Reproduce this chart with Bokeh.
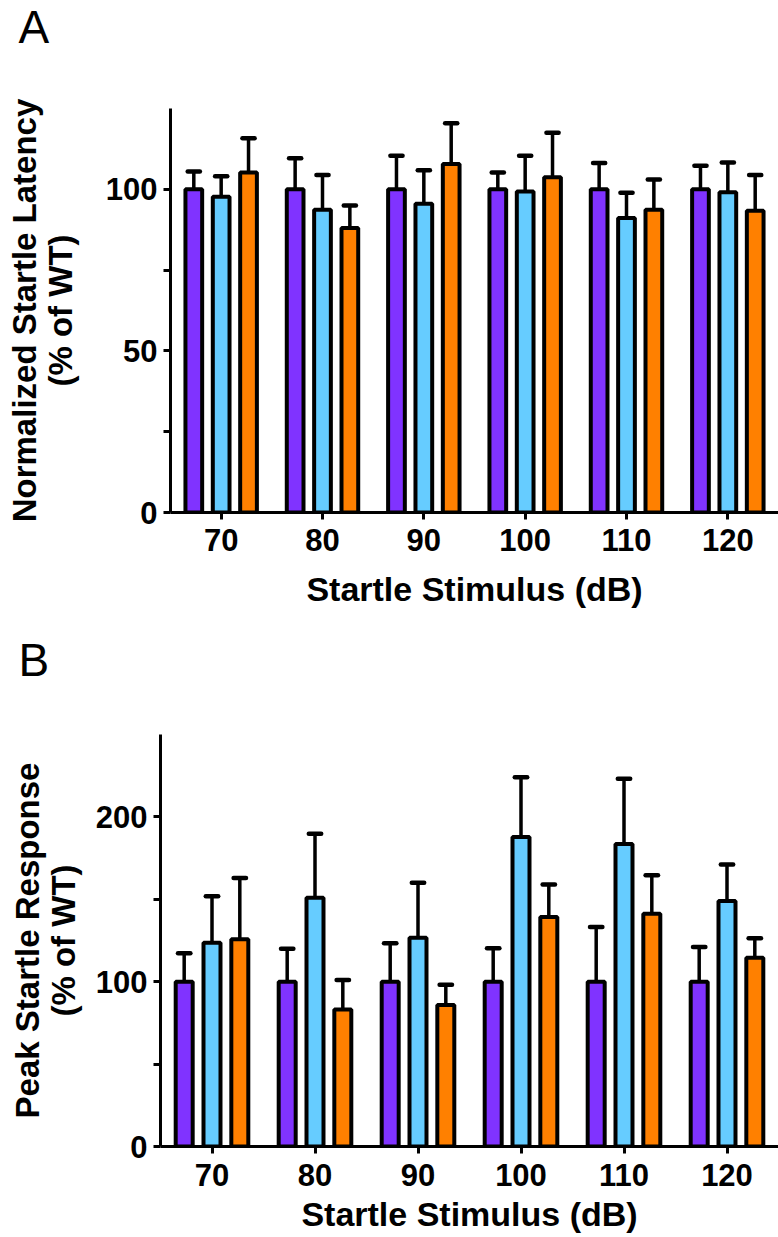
from bokeh.plotting import figure
from bokeh.models import ColumnDataSource, FactorRange, Range1d, FixedTicker
from bokeh.transform import dodge
from bokeh.layouts import column, row
from bokeh.embed import file_html
from bokeh.resources import INLINE

# ---------------- data ----------------
stimuli = ["70", "80", "90", "100", "110", "120"]

# Panel A: Normalized startle latency (% of WT)
lat_purple = [100, 100, 100, 100, 100, 100]
lat_purple_err = [5.5, 9.6, 10.4, 5.2, 8.1, 7.3]
lat_blue = [97.7, 93.7, 95.5, 99.3, 91.1, 99.1]
lat_blue_err = [6.3, 10.7, 10.4, 11.1, 7.8, 9.2]
lat_orange = [105.2, 88.0, 107.8, 103.7, 93.7, 93.4]
lat_orange_err = [10.6, 7.0, 12.6, 13.8, 9.3, 11.0]

# Panel B: Peak startle response (% of WT)
peak_purple = [100, 100, 100, 100, 100, 100]
peak_purple_err = [17.3, 20.0, 23.3, 20.3, 33.2, 21.1]
peak_blue = [123.7, 150.9, 126.7, 187.8, 183.6, 148.9]
peak_blue_err = [28.2, 38.9, 33.3, 36.2, 39.5, 22.2]
peak_orange = [125.8, 83.2, 85.8, 139.2, 141.2, 114.6]
peak_orange_err = [37.2, 17.8, 12.3, 19.8, 23.4, 11.8]

colors = ["#8033FF", "#66CCFF", "#FF8000"]
offsets = [-0.27, 0.0, 0.27]

FONT = "Liberation Sans"


def make_panel(letter, ylabel, series, ymax, major, minor, height,
               border_left, border_top, border_bottom,
               label_standoff, tick_standoff, xlabel_standoff,
               letter_offset, letter_line_height):
    p = figure(x_range=FactorRange(*stimuli, range_padding=0),
               y_range=Range1d(0, ymax), width=778, height=height,
               output_backend="svg", toolbar_location=None,
               min_border_left=border_left, min_border_right=0,
               min_border_top=border_top, min_border_bottom=border_bottom)
    p.outline_line_color = None
    p.grid.visible = False
    p.background_fill_color = "white"

    # panel letter (second, empty line lifts it to the top of the canvas)
    p.title.text = letter + "\n"
    p.title.text_font = FONT
    p.title.text_font_size = "46px"
    p.title.text_font_style = "normal"
    p.title.text_color = "black"
    p.title.align = "left"
    p.title.offset = letter_offset
    p.title.vertical_align = "top"
    p.title.standoff = 0
    p.title.text_line_height = letter_line_height

    for (vals, errs), col, off in zip(series, colors, offsets):
        tops = [v + e for v, e in zip(vals, errs)]
        src = ColumnDataSource(dict(x=stimuli, val=vals, top=tops))
        p.segment(x0=dodge("x", off, range=p.x_range), y0="val",
                  x1=dodge("x", off, range=p.x_range), y1="top",
                  source=src, line_color="black", line_width=3.5)
        p.segment(x0=dodge("x", off - 0.06, range=p.x_range), y0="top",
                  x1=dodge("x", off + 0.06, range=p.x_range), y1="top",
                  source=src, line_color="black", line_width=4.5,
                  line_cap="round")
        p.vbar(x=dodge("x", off, range=p.x_range), top="val", width=0.165,
               bottom=0, source=src, fill_color=col, line_color="black",
               line_width=4)

    for ax in (p.xaxis[0], p.yaxis[0]):
        ax.axis_line_width = 3
        ax.axis_line_color = "black"
        ax.major_tick_line_width = 3
        ax.major_tick_out = 7
        ax.major_tick_in = 0
        ax.major_label_text_font = FONT
        ax.major_label_text_font_style = "bold"
        ax.major_label_text_font_size = "31px"
        ax.major_label_text_color = "black"
        ax.axis_label_text_font = FONT
        ax.axis_label_text_font_style = "bold"
        ax.axis_label_text_color = "black"

    p.xaxis.axis_label = "Startle Stimulus (dB)"
    p.xaxis.axis_label_text_font_size = "34px"
    p.xaxis.major_label_standoff = tick_standoff
    p.xaxis.axis_label_standoff = xlabel_standoff

    p.yaxis.axis_label = ylabel
    p.yaxis.axis_label_text_font_size = "33px"
    p.yaxis.axis_label_text_line_height = 0.97
    p.yaxis.ticker = FixedTicker(ticks=major, minor_ticks=minor)
    p.yaxis.minor_tick_line_width = 3
    p.yaxis.minor_tick_out = 7
    p.yaxis.minor_tick_in = 0
    p.yaxis.major_label_standoff = 6
    p.yaxis.axis_label_standoff = label_standoff
    return p


pA = make_panel("A", "Normalized Startle Latency\n(% of WT)",
                [(lat_purple, lat_purple_err), (lat_blue, lat_blue_err),
                 (lat_orange, lat_orange_err)],
                125, [0, 50, 100], [25, 75], 625,
                170, 107, 113, 24, 9, 16, -152, 1.03)

pB = make_panel("B", "Peak Startle Response\n(% of WT)",
                [(peak_purple, peak_purple_err), (peak_blue, peak_blue_err),
                 (peak_orange, peak_orange_err)],
                250, [0, 100, 200], [50, 150], 612,
                160, 109, 91, 11, 10, 6, -142, 0.9)

layout = column(row(pA), row(pB), spacing=0)
open("out.html", "w").write(file_html(layout, INLINE))
